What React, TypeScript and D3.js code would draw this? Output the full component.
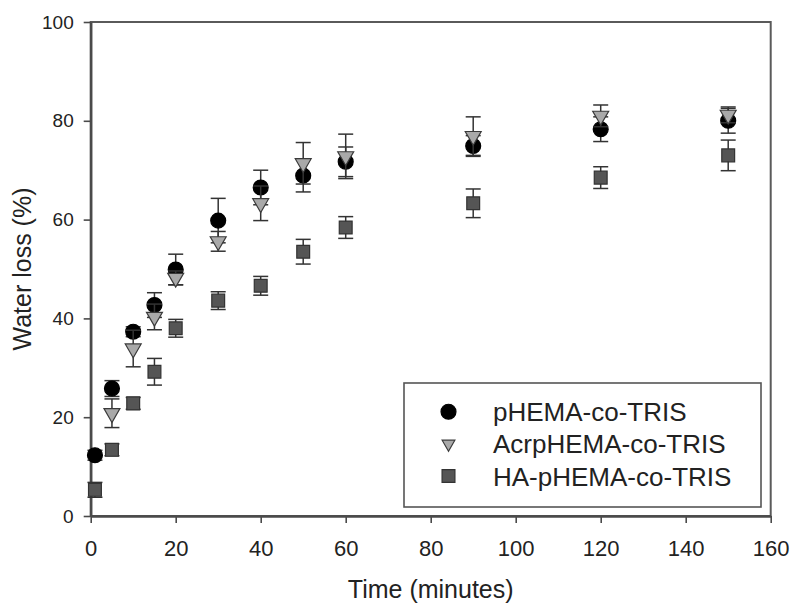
import * as d3 from 'd3';
import React, {useEffect, useRef} from 'react';

// sampling times (minutes)
const times = [1, 5, 10, 15, 20, 30, 40, 50, 60, 90, 120, 150];

// water loss (%), mean and error bar half-width
// (no AcrpHEMA point visible at t=1)
const phemaMean = [12.3, 25.8, 37.3, 42.7, 49.9, 59.8, 66.5, 68.9, 71.7, 74.9, 78.3, 80.0];
const phemaErr = [1.0, 1.6, 1.0, 2.5, 3.1, 4.5, 3.5, 3.3, 3.0, 2.1, 2.5, 2.5];
const acrpMean = [null, 20.8, 33.9, 40.3, 48.2, 55.6, 63.3, 71.4, 72.8, 76.9, 81.0, 81.2];
const acrpErr = [null, 2.9, 3.7, 2.6, 1.4, 2.0, 3.5, 4.2, 4.5, 3.9, 2.2, 1.6];
const haMean = [5.3, 13.4, 22.8, 29.2, 38.0, 43.6, 46.6, 53.5, 58.4, 63.3, 68.5, 73.0];
const haErr = [1.5, 1.2, 1.2, 2.7, 1.8, 1.8, 1.9, 2.5, 2.2, 2.9, 2.2, 3.1];

const seriesNames = ['pHEMA-co-TRIS', 'AcrpHEMA-co-TRIS', 'HA-pHEMA-co-TRIS'];

const xTicks = [0, 20, 40, 60, 80, 100, 120, 140, 160];
const yTicks = [0, 20, 40, 60, 80, 100];

const FONT = '"Liberation Sans", Arial, Helvetica, sans-serif';

export default function App() {
    const ref = useRef<SVGSVGElement>(null);

    useEffect(() => {
        const plot = {left: 90.7, right: 770.7, top: 22, bottom: 516};

        const svg = d3.select(ref.current);
        svg.selectAll('*').remove();

        const x = d3.scaleLinear().domain([0, 160]).range([plot.left, plot.right]);
        const y = d3.scaleLinear().domain([0, 100]).range([plot.bottom, plot.top]);

        // frame (top + right sides)
        svg.append('rect')
            .attr('x', plot.left)
            .attr('y', plot.top)
            .attr('width', plot.right - plot.left)
            .attr('height', plot.bottom - plot.top)
            .attr('fill', 'none')
            .attr('stroke', '#5a5a5a')
            .attr('stroke-width', 2);

        // x axis
        const gx = svg.append('g')
            .attr('transform', `translate(0,${plot.bottom})`)
            .call(d3.axisBottom(x).tickValues(xTicks).tickSizeInner(7).tickSizeOuter(0).tickPadding(17));
        gx.select('.domain').attr('stroke', '#4a4a4a').attr('stroke-width', 2.5);
        gx.selectAll('.tick line').attr('stroke', '#4a4a4a').attr('stroke-width', 1.6);
        gx.selectAll('.tick text')
            .attr('fill', '#222')
            .style('font-family', FONT)
            .style('font-size', '22px');

        // y axis
        const gy = svg.append('g')
            .attr('transform', `translate(${plot.left},0)`)
            .call(d3.axisLeft(y).tickValues(yTicks).tickSizeInner(7).tickSizeOuter(0).tickPadding(10));
        gy.select('.domain').attr('stroke', '#4a4a4a').attr('stroke-width', 2.5);
        gy.selectAll('.tick line').attr('stroke', '#4a4a4a').attr('stroke-width', 1.6);
        gy.selectAll('.tick text')
            .attr('fill', '#222')
            .style('font-family', FONT)
            .style('font-size', '19px');

        // axis titles
        svg.append('text')
            .attr('x', (plot.left + plot.right) / 2)
            .attr('y', 598)
            .attr('text-anchor', 'middle')
            .attr('fill', '#222')
            .style('font-family', FONT)
            .style('font-size', '25px')
            .text('Time (minutes)');

        svg.append('text')
            .attr('transform', `translate(31,${(plot.top + plot.bottom) / 2}) rotate(-90)`)
            .attr('text-anchor', 'middle')
            .attr('fill', '#222')
            .style('font-family', FONT)
            .style('font-size', '25px')
            .text('Water loss (%)');

        // marker shapes
        const circle = d3.symbol(d3.symbolCircle, 175);
        const tri = d3.symbol(d3.symbolTriangle, 110);
        const square = d3.symbol(d3.symbolSquare, 165);

        const styles = [
            {sym: circle, fill: '#000', stroke: '#000', rot: 0},
            {sym: tri, fill: '#a9a9a9', stroke: '#3a3a3a', rot: 180},
            {sym: square, fill: '#555', stroke: '#333', rot: 0},
        ];

        const series = [
            {mean: haMean, err: haErr, st: styles[2]},
            {mean: phemaMean, err: phemaErr, st: styles[0]},
            {mean: acrpMean, err: acrpErr, st: styles[1]},
        ];

        const cap = 7.5;
        series.forEach((s) => {
            const g = svg.append('g');
            const rows = times
                .map((t, i) => ({t, m: s.mean[i] as number, e: s.err[i] as number}))
                .filter((d) => d.m != null);

            // error bars
            const eb = g.selectAll('g.eb').data(rows).enter().append('g')
                .attr('stroke', '#333')
                .attr('stroke-width', 1.5);
            eb.append('line')
                .attr('x1', (d) => x(d.t)).attr('x2', (d) => x(d.t))
                .attr('y1', (d) => y(d.m + d.e)).attr('y2', (d) => y(d.m - d.e));
            eb.append('line')
                .attr('x1', (d) => x(d.t) - cap).attr('x2', (d) => x(d.t) + cap)
                .attr('y1', (d) => y(d.m + d.e)).attr('y2', (d) => y(d.m + d.e));
            eb.append('line')
                .attr('x1', (d) => x(d.t) - cap).attr('x2', (d) => x(d.t) + cap)
                .attr('y1', (d) => y(d.m - d.e)).attr('y2', (d) => y(d.m - d.e));

            // markers
            g.selectAll('path.mk').data(rows).enter().append('path')
                .attr('d', s.st.sym())
                .attr('transform', (d) => `translate(${x(d.t)},${y(d.m)}) rotate(${s.st.rot})`)
                .attr('fill', s.st.fill)
                .attr('stroke', s.st.stroke)
                .attr('stroke-width', 1.2);
        });

        // legend
        const lg = {x: 404, y: 383, w: 357, h: 124};
        svg.append('rect')
            .attr('x', lg.x).attr('y', lg.y)
            .attr('width', lg.w).attr('height', lg.h)
            .attr('fill', '#fff')
            .attr('stroke', '#555')
            .attr('stroke-width', 1.6);

        const rowY = d3.scalePoint().domain(seriesNames).range([411.7, 476]);
        seriesNames.forEach((name, i) => {
            const st = styles[i];
            const cy = rowY(name) as number;
            svg.append('path')
                .attr('d', i === 1 ? d3.symbol(d3.symbolTriangle, 70)() : st.sym())
                .attr('transform', `translate(448.5,${cy}) rotate(${st.rot})`)
                .attr('fill', st.fill)
                .attr('stroke', st.stroke)
                .attr('stroke-width', 1.2);
            svg.append('text')
                .attr('x', 493)
                .attr('y', cy + 9.5)
                .attr('fill', '#222')
                .style('font-family', FONT)
                .style('font-size', '26px')
                .text(name);
        });
    }, []);

    return (
        <svg
            ref={ref}
            width={792}
            height={606}
            style={{position: 'absolute', left: 0, top: 0, background: '#fff'}}
        />
    );
}
